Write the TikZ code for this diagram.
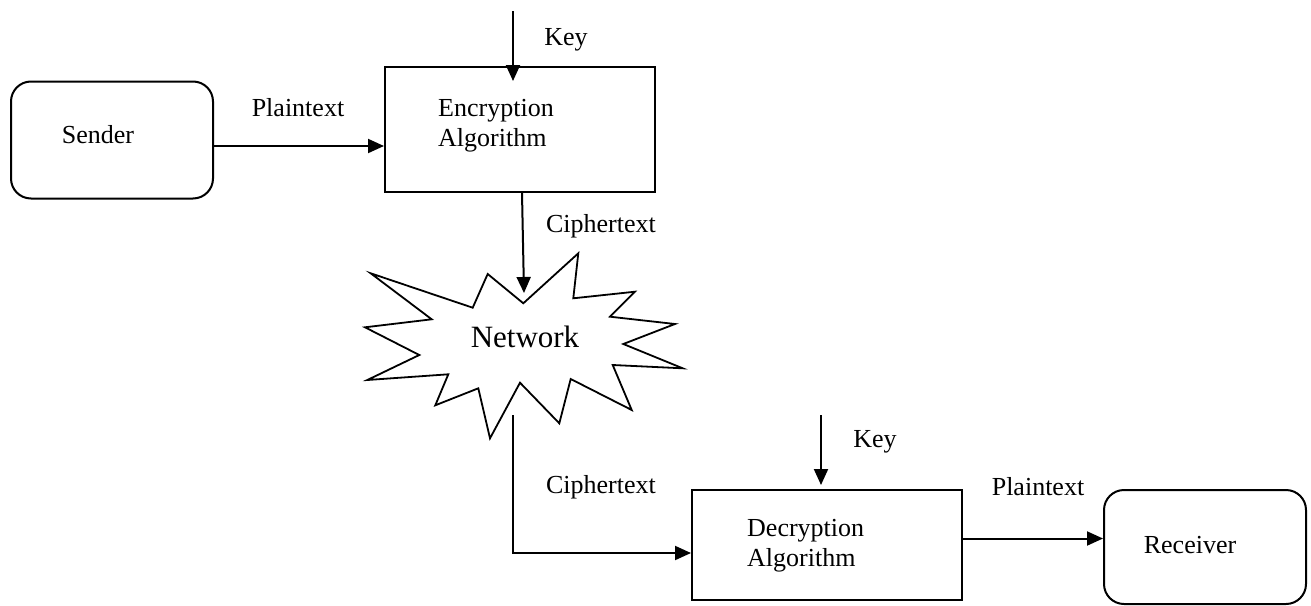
\documentclass[tikz,border=0pt]{standalone}
\usepackage{fontspec}
\setmainfont{Liberation Serif}
\usetikzlibrary{arrows.meta}
\tikzset{
  lbl/.style={font=\fontsize{26}{30}\selectfont, inner sep=0pt},
  boxtext/.style={font=\fontsize{26}{30}\selectfont, inner sep=0pt, align=left, anchor=west},
  plainbox/.style={draw, line width=2pt, inner sep=0pt},
  roundbox/.style={draw, line width=2pt, inner sep=0pt, rounded corners=20pt},
  arr/.style={line width=2pt, -{Triangle[length=16pt,width=14pt]}},
  burst/.style={draw, line width=1.8pt, line join=miter},
}
\begin{document}
\begin{tikzpicture}[x=1pt,y=-1pt]
\useasboundingbox (0,0) rectangle (1311,605);

% boxes
\node[roundbox, minimum width=202pt, minimum height=117pt] (snd) at (112,140) {};
\node[plainbox, minimum width=270pt, minimum height=125pt] (enc) at (520,129.5) {};
\node[plainbox, minimum width=270pt, minimum height=110pt] (dec) at (827,545) {};
\node[roundbox, minimum width=202pt, minimum height=114pt] (rcv) at (1205,547) {};

% box texts
\node[lbl] (sndt) at (98,135) {Sender};
\node[boxtext] (enct) at (438,126) {Encryption\\Algorithm};
\node[boxtext] (dect) at (747,545.5) {Decryption\\Algorithm};
\node[lbl] (rcvt) at (1190,545) {Receiver};

% starburst
\draw[burst] (523.3,303.3) -- (578.3,253.3) -- (573.3,298.3) -- (635,291.7)
  -- (610,316.7) -- (675,324) -- (623.3,344) -- (682.7,368.3) -- (612.7,365)
  -- (631.7,410) -- (570.7,379) -- (559.3,423.3) -- (520,382.7) -- (490,438.3)
  -- (478.3,388.3) -- (435.3,405.3) -- (448.3,374.3) -- (367.3,380)
  -- (419.3,355) -- (365,327.3) -- (431.7,319.3) -- (370.7,273.3)
  -- (472.7,307.7) -- (487.7,274) -- cycle;
\node[lbl, font=\fontsize{31}{36}\selectfont] (net) at (525,337) {Network};
\coordinate (nettop) at (524,293);
\coordinate (netout) at (513,415);

% key inputs
\coordinate (k1) at (513,11);
\coordinate (k2) at (821,415);
\draw[arr] (k1) -- ([xshift=-7pt,yshift=-15pt]enc.north);
\draw[arr] (k2) -- ([xshift=-6pt,yshift=4pt]dec.north);

% flows
\path ([yshift=-6pt]snd.east) coordinate (p1);
\draw[arr] (p1) -- (p1 -| enc.west);
\draw[arr] ([xshift=2pt]enc.south) -- (nettop);
\draw[arr] (netout) |- ([yshift=-8pt]dec.west);
\path ([yshift=6.5pt]dec.east) coordinate (p2);
\draw[arr] (p2) -- (p2 -| rcv.west);

% labels
\node[lbl] (l1) at (298,108) {Plaintext};
\node[lbl] (l2) at (566,40) {Key};
\node[lbl] (l3) at (601,226) {Ciphertext};
\node[lbl] (l4) at (601,487) {Ciphertext};
\node[lbl] (l5) at (875,442) {Key};
\node[lbl] (l6) at (1038,487) {Plaintext};
\end{tikzpicture}
\end{document}
